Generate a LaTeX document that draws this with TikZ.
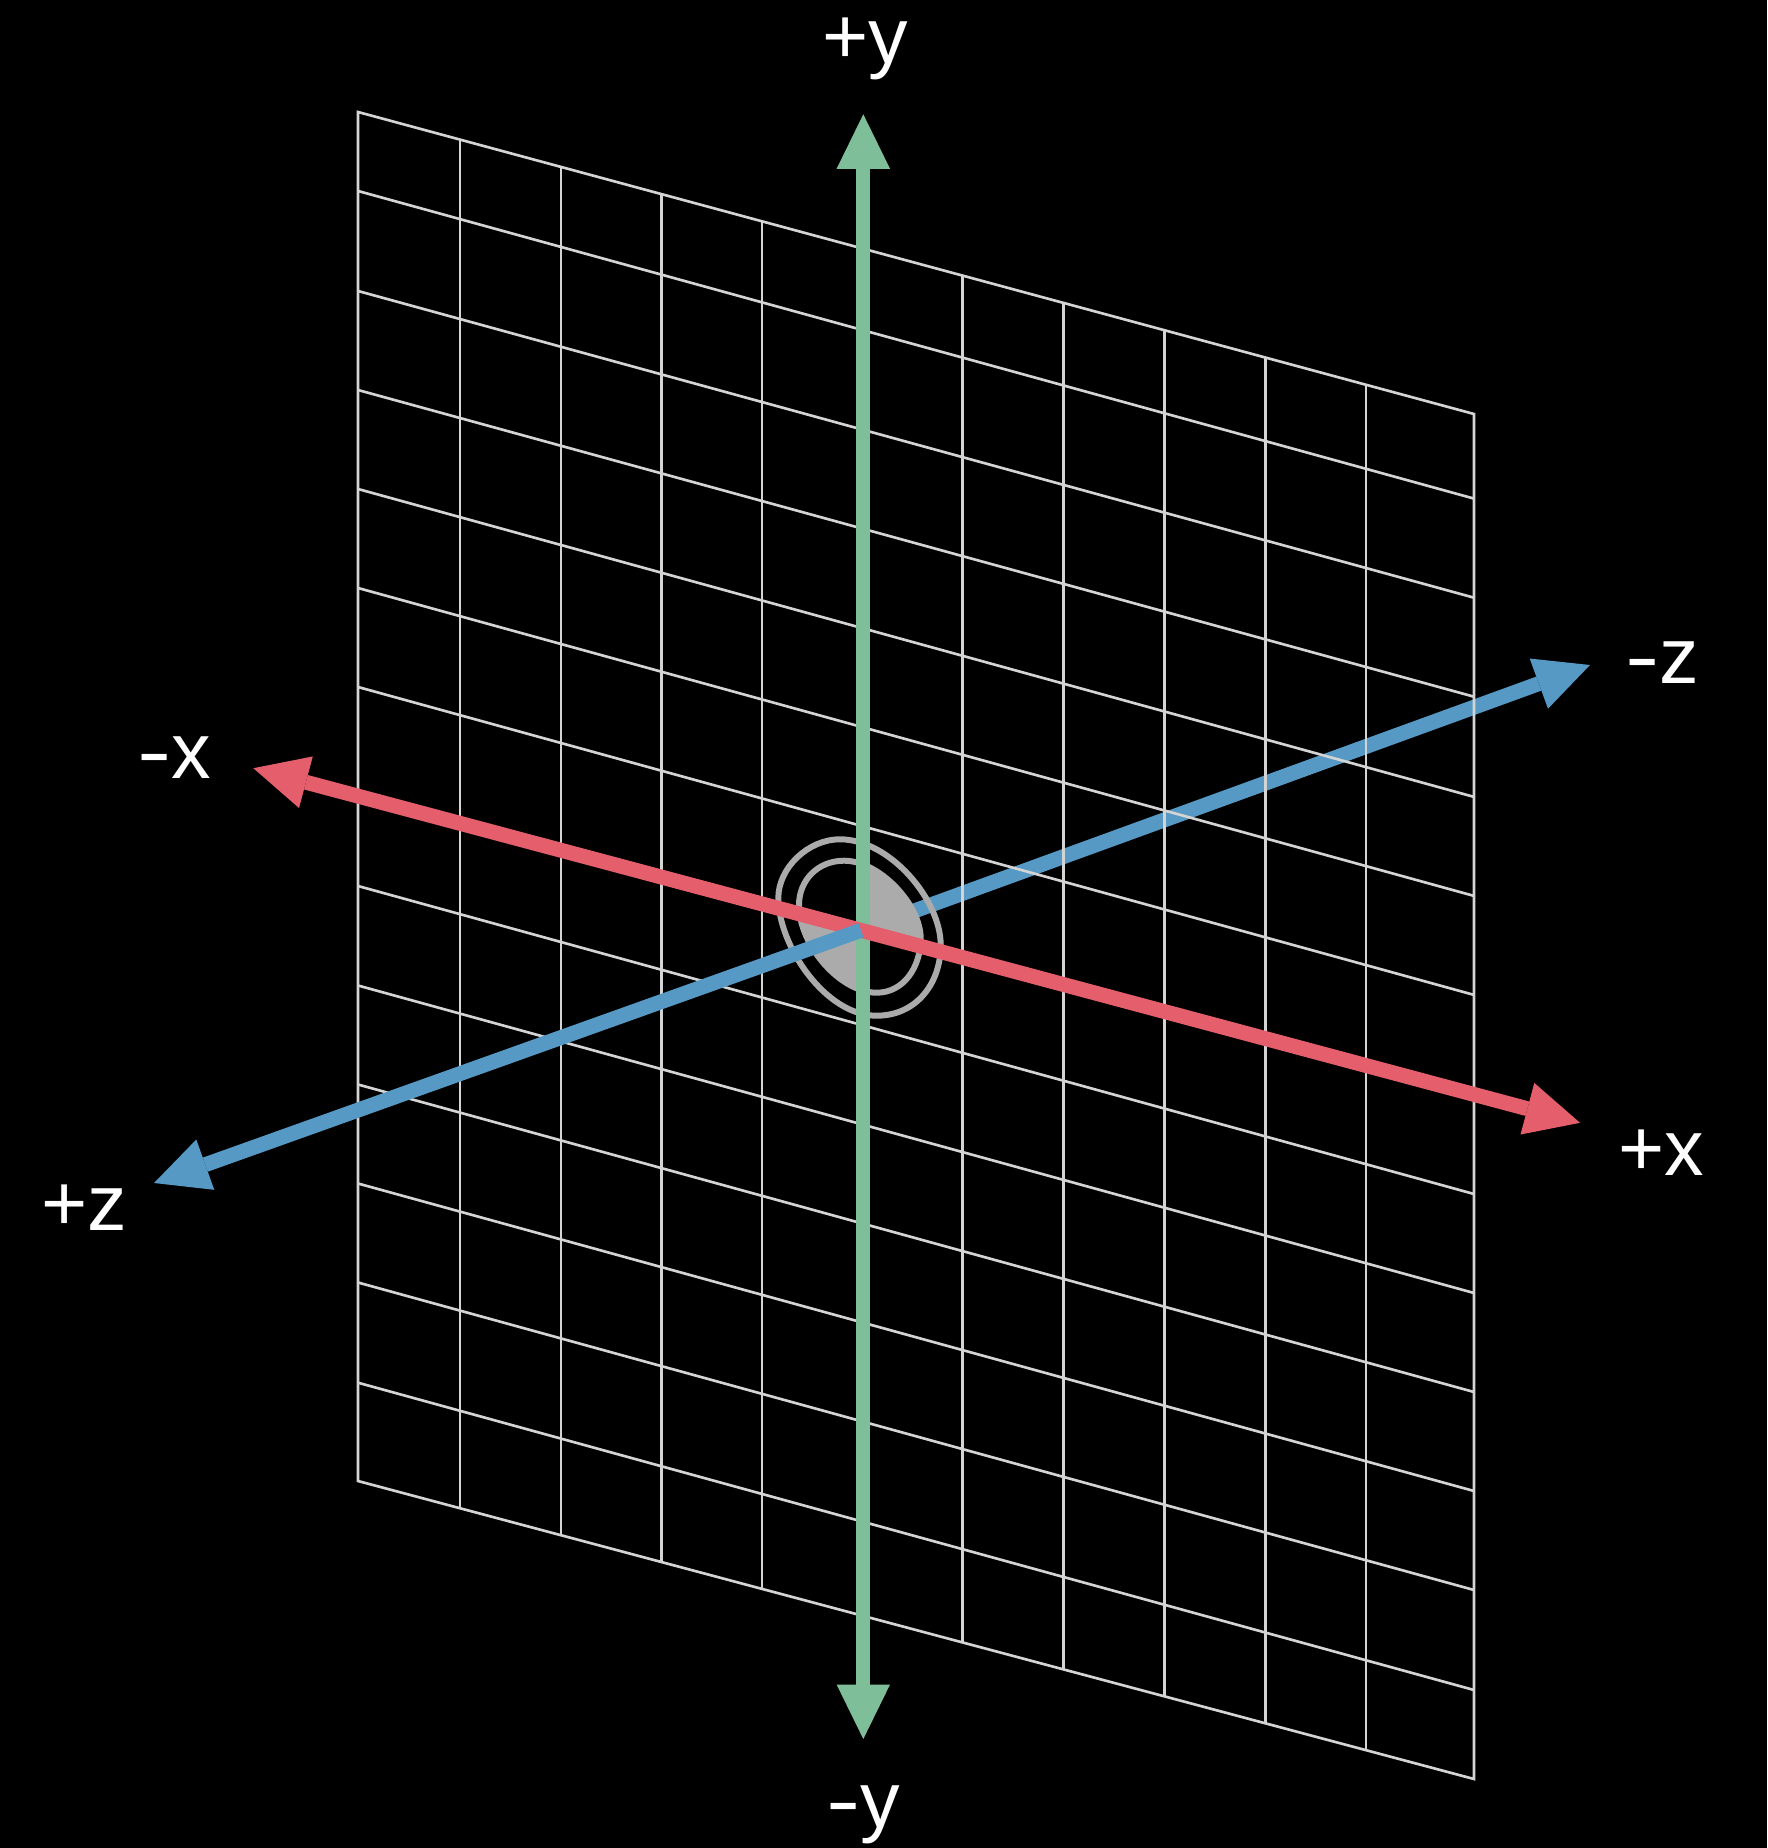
\documentclass[tikz,border=0pt]{standalone}
\usepackage{fontspec}
\setmainfont{Liberation Sans}
\usetikzlibrary{arrows.meta,calc}
\definecolor{gridline}{HTML}{D4D4D4}
\definecolor{blobgray}{HTML}{ABABAB}
\definecolor{axisred}{HTML}{E55E6B}
\definecolor{axisblue}{HTML}{5599C4}
\definecolor{axisgreen}{HTML}{7EBF9A}
\tikzset{
  gridrule/.style={draw=gridline,line width=1.5pt},
  ring/.style={draw=blobgray,line width=3.4pt},
  axis/.style={line width=8.5pt,-{Triangle[length=31pt,width=30.4pt,line width=0pt]}},
  axislabel/.style={anchor=base,text=white,font=\fontsize{45}{52}\selectfont}
}
\newcommand{\axisdash}{{\addfontfeature{FakeStretch=1.3}-}}
\newcommand{\innerblob}{(844,860.7)
  .. controls (818,860.7) and (799,880) .. (799,905)
  .. controls (799,945) and (840,992.7) .. (876.7,992.7)
  .. controls (903,992.7) and (920.7,968) .. (920.7,938.3)
  .. controls (920.7,905) and (880,860.7) .. (844,860.7) -- cycle}
\newcommand{\outerblob}{(840,839.3)
  .. controls (808,839.3) and (778.3,868) .. (778.3,898)
  .. controls (778.3,945) and (825,1015.7) .. (876.7,1015.7)
  .. controls (915,1015.7) and (940.7,985) .. (940.7,945)
  .. controls (940.7,900) and (890,839.3) .. (840,839.3) -- cycle}
\begin{document}
\begin{tikzpicture}[x=0.02cm,y=-0.02cm]

\fill[black] (0,0) rectangle (1767,1848);
\useasboundingbox (0,0) rectangle (1767,1848);

\coordinate (gridtl) at (358,112);
\coordinate (gridtr) at (1474,414);
\coordinate (gridbl) at (358,1481);
\coordinate (gridbr) at (1474,1779);
\coordinate (origin) at (861,930.3);
\coordinate (centre) at (863.3,930);
\coordinate (xneg) at (253.3,768.2);
\coordinate (xpos) at (1580,1122.8);
\coordinate (yneg) at (863.3,1739);
\coordinate (ypos) at (863.3,114.3);
\coordinate (zneg) at (1590,665);
\coordinate (zpos) at (154,1183);

% -z runs under the grid and the blob, +z over everything
\draw[axis,axisblue] (origin) -- (zneg);

% The rows and columns on the axes are hidden, so they are left out.
\foreach \l/\r in {191/498.6,291/597.7,390/696.7,489/796.9,588/895.9,687/994.9,
  886/1194,985.5/1293,1084.5/1392,1183.5/1491,1282.5/1590,1382.7/1690} {
  \draw[gridrule] (358,\l) -- (1474,\r);
}
\foreach \t in {0.0914,0.1819,0.2719,0.3620,0.5414,0.6319,0.7224,0.8129,0.9032} {
  \draw[gridrule] ($(gridtl)!\t!(gridtr)$) -- ($(gridbl)!\t!(gridbr)$);
}
\draw[gridrule] (gridtl) -- (gridtr) -- (gridbr) -- (gridbl) -- cycle;

\begin{scope}
  \clip (centre) -- (863.3,800) -- (1000,800) -- (1000,967) -- cycle;
  \fill[blobgray] \innerblob;
\end{scope}
\begin{scope}
  \clip (centre) -- (863.3,1050) -- (740,1050) -- (740,897) -- cycle;
  \fill[blobgray] \innerblob;
\end{scope}
\draw[ring] \innerblob;
\draw[ring] \outerblob;

\draw[axis,axisgreen,line width=7.8pt] (centre) -- (yneg);
\draw[axis,axisgreen,line width=7.8pt] (centre) -- (ypos);
\draw[axis,axisred] (origin) -- (xneg);
\draw[axis,axisred] (origin) -- (xpos);
\draw[axis,axisblue] (origin) -- (zpos);

\node[axislabel] (labelypos) at (865,63.5) {+y};
\node[axislabel] (labelyneg) at (863.5,1827) {\axisdash y};
\node[axislabel] (labelxneg) at (174.5,778) {\axisdash x};
\node[axislabel] (labelzneg) at (1662,683) {\axisdash z};
\node[axislabel] (labelxpos) at (1661.5,1175) {+x};
\node[axislabel] (labelzpos) at (84,1230) {+z};

\end{tikzpicture}
\end{document}
